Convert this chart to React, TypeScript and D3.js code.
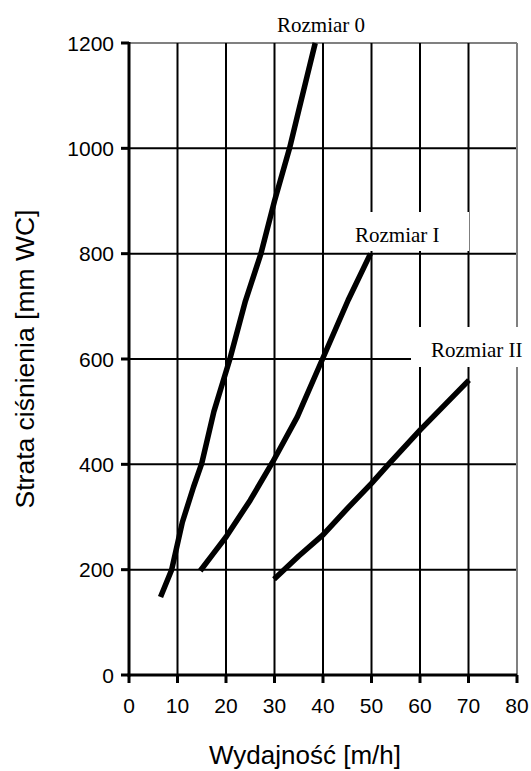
import React from "react";
import * as d3 from "d3";

// ---- data ----
const xTicks = [0, 10, 20, 30, 40, 50, 60, 70, 80];
const yTicks = [0, 200, 400, 600, 800, 1000, 1200];

const size0X = [6.5, 8.8, 11.0, 13.3, 15.0, 17.5, 20.8, 24.0, 27.2, 30.0, 33.1, 35.0, 36.7, 38.4];
const size0Y = [148, 200, 290, 357, 402, 500, 600, 710, 800, 900, 1000, 1072, 1136, 1200];

const size1X = [14.7, 17.5, 20.0, 25.0, 29.6, 34.7, 39.9, 45.2, 49.8];
const size1Y = [198, 232, 262, 332, 404, 490, 600, 712, 800];

const size2X = [29.9, 35.0, 40.0, 45.0, 50.0, 53.5, 60.0, 65.0, 70.1];
const size2Y = [182, 226, 266, 316, 364, 400, 465, 512, 560];

const seriesNames = ["Rozmiar 0", "Rozmiar I", "Rozmiar II"];

const xTitle = "Wydajność [m/h]";
const yTitle = "Strata ciśnienia [mm WC]";

export default function App() {
  const W = 531;
  const H = 771;
  const left = 129;
  const right = 517;
  const top = 43;
  const bottom = 675;

  const x = d3.scaleLinear().domain([0, 80]).range([left, right]);
  const y = d3.scaleLinear().domain([0, 1200]).range([bottom, top]);

  const line = d3
    .line<[number, number]>()
    .x((d) => x(d[0]))
    .y((d) => y(d[1]))
    .curve(d3.curveLinear);

  const series = [
    size0X.map((v, i) => [v, size0Y[i]] as [number, number]),
    size1X.map((v, i) => [v, size1Y[i]] as [number, number]),
    size2X.map((v, i) => [v, size2Y[i]] as [number, number]),
  ];

  const sans = "'Liberation Sans', Arial, sans-serif";
  const serif = "'Liberation Serif', 'Times New Roman', serif";

  return (
    <svg
      width={W}
      height={H}
      style={{ position: "absolute", left: 0, top: 0, background: "#fff" }}
    >
      <rect x={0} y={0} width={W} height={H} fill="#fff" />
      {/* horizontal grid */}
      {yTicks
        .filter((t) => t > 0)
        .map((t) => (
          <line
            key={"hg" + t}
            x1={left}
            x2={right}
            y1={y(t)}
            y2={y(t)}
            stroke={t === 1200 ? "#808080" : "#000"}
            strokeWidth={2}
          />
        ))}
      {/* vertical grid */}
      {xTicks
        .filter((t) => t > 0)
        .map((t) => (
          <line
            key={"vg" + t}
            x1={x(t)}
            x2={x(t)}
            y1={top}
            y2={bottom}
            stroke={t === 80 ? "#808080" : "#000"}
            strokeWidth={2}
          />
        ))}

      {/* label boxes for Rozmiar I and II */}
      <rect x={342} y={212} width={127} height={39} fill="#fff" />
      <rect x={411} y={327} width={120} height={40} fill="#fff" />

      {/* series */}
      {series.map((s, i) => (
        <path
          key={"s" + i}
          d={line(s) || ""}
          fill="none"
          stroke="#000"
          strokeWidth={5.5}
          strokeLinejoin="round"
          strokeLinecap="butt"
        />
      ))}

      {/* axes */}
      <line x1={left} x2={left} y1={top - 1} y2={bottom + 1.5} stroke="#000" strokeWidth={3} />
      <line x1={left - 1.5} x2={right} y1={bottom} y2={bottom} stroke="#000" strokeWidth={3} />
      {yTicks.map((t) => (
        <g key={"yt" + t}>
          <line x1={left - 8} x2={left} y1={y(t)} y2={y(t)} stroke="#000" strokeWidth={3} />
          <text
            x={114}
            y={y(t)}
            dy="0.36em"
            textAnchor="end"
            fontFamily={sans}
            fontSize={21}
            fill="#000"
          >
            {t}
          </text>
        </g>
      ))}
      {xTicks.map((t) => (
        <g key={"xt" + t}>
          <line x1={x(t)} x2={x(t)} y1={bottom} y2={bottom + 8} stroke="#000" strokeWidth={3} />
          <text
            x={x(t)}
            y={713}
            textAnchor="middle"
            fontFamily={sans}
            fontSize={21}
            fill="#000"
          >
            {t}
          </text>
        </g>
      ))}

      {/* series labels */}
      <text x={277} y={31.5} fontFamily={serif} fontSize={21} fill="#000">
        {seriesNames[0]}
      </text>
      <text x={355} y={242} fontFamily={serif} fontSize={21} fill="#000">
        {seriesNames[1]}
      </text>
      <text x={431} y={357} fontFamily={serif} fontSize={21} fill="#000">
        {seriesNames[2]}
      </text>

      {/* axis titles */}
      <text
        x={305}
        y={764}
        textAnchor="middle"
        fontFamily={sans}
        fontSize={26}
        fill="#000"
      >
        {xTitle}
      </text>
      <text
        transform={`translate(34, ${(top + bottom) / 2}) rotate(-90)`}
        textAnchor="middle"
        fontFamily={sans}
        fontSize={26.5}
        fill="#000"
      >
        {yTitle}
      </text>
    </svg>
  );
}
